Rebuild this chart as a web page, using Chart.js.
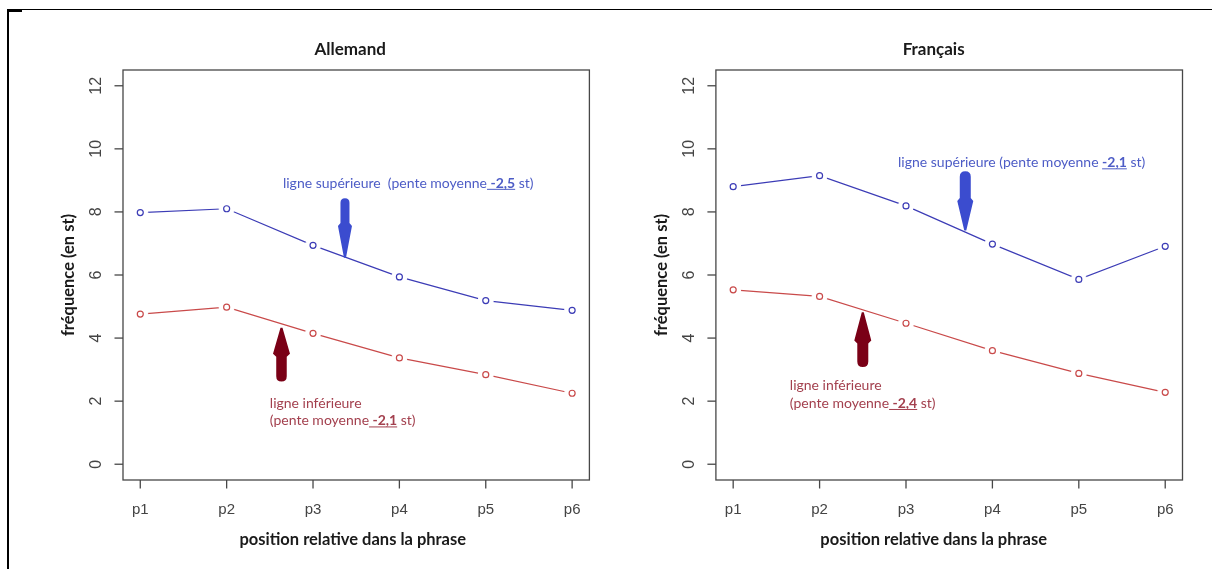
<!DOCTYPE html>
<html>
<head>
<meta charset="utf-8">
<script src="https://cdn.jsdelivr.net/npm/chart.js@4.4.0/dist/chart.umd.min.js"></script>
<style>
  body { margin: 0; background: #fff; width: 1212px; height: 569px; overflow: hidden; position: relative; }
  canvas { position: absolute; top: 0; }
  #allemand { left: 0; }
  #francais { left: 606px; }
  .frame-top { position: absolute; left: 7px; top: 9px; width: 1205px; height: 1px; background: #000; }
  .frame-left { position: absolute; left: 7px; top: 9px; width: 2px; height: 560px; background: #000; }
  .frame-corner { position: absolute; left: 7px; top: 9px; width: 15px; height: 3px; background: #000; }
</style>
</head>
<body>
<canvas id="allemand" width="606" height="569"></canvas>
<canvas id="francais" width="606" height="569"></canvas>
<div class="frame-top"></div>
<div class="frame-left"></div>
<div class="frame-corner"></div>
<script>
// values
const categories = ['p1', 'p2', 'p3', 'p4', 'p5', 'p6'];
const yTicks = [0, 2, 4, 6, 8, 10, 12];
const allemandSup = [7.98, 8.10, 6.94, 5.94, 5.19, 4.88];
const allemandInf = [4.76, 4.98, 4.15, 3.37, 2.84, 2.25];
const francaisSup = [8.80, 9.15, 8.19, 6.98, 5.86, 6.91];
const francaisInf = [5.53, 5.32, 4.47, 3.60, 2.88, 2.28];

const BLUE = '#3c3cb6';
const RED = '#c94a4a';
const BLUE_TXT = '#4d5cc6';
const RED_TXT = '#a3404e';
const BLUE_ARROW = '#3b4ccf';
const RED_ARROW = '#7a0016';
const NOTE_SIZE = 14;

// line + white gap + open circle, like R type="b"
function seriesSets(values, color) {
  const pts = values.map((v, i) => ({ x: i + 1, y: v }));
  return [
    { data: pts, borderColor: color, borderWidth: 1.2, pointRadius: 0, tension: 0, order: 3 },
    { data: pts, showLine: false, pointRadius: 7.5, pointBackgroundColor: '#ffffff', pointBorderColor: '#ffffff', pointBorderWidth: 1, order: 2 },
    { data: pts, showLine: false, pointRadius: 3, pointBackgroundColor: '#ffffff', pointBorderColor: color, pointBorderWidth: 1.2, order: 1 }
  ];
}

function drawRich(ctx, parts, x, y, size, color) {
  let cx = x;
  ctx.textAlign = 'left';
  ctx.textBaseline = 'middle';
  ctx.fillStyle = color;
  parts.forEach(p => {
    ctx.font = (p.bold ? '700 ' : '400 ') + size + 'px Lato';
    ctx.fillText(p.t, cx, y);
    const w = ctx.measureText(p.t).width;
    if (p.u) ctx.fillRect(cx, y + size * 0.4, w, 1);
    cx += w;
  });
}

function drawArrow(ctx, cx, yTail, yBase, yTip, shaftW, headW, color) {
  const dir = Math.sign(yTip - yTail);
  ctx.fillStyle = color;
  ctx.beginPath();
  ctx.moveTo(cx - shaftW / 2, yTail + dir * shaftW / 2);
  ctx.quadraticCurveTo(cx - shaftW / 2, yTail, cx, yTail);
  ctx.quadraticCurveTo(cx + shaftW / 2, yTail, cx + shaftW / 2, yTail + dir * shaftW / 2);
  ctx.lineTo(cx + shaftW / 2, yBase - dir * 3);
  ctx.lineTo(cx + headW / 2, yBase);
  ctx.lineTo(cx + 1, yTip);
  ctx.lineTo(cx - 1, yTip);
  ctx.lineTo(cx - headW / 2, yBase);
  ctx.lineTo(cx - shaftW / 2, yBase - dir * 3);
  ctx.closePath();
  ctx.fill();
}

const rStyle = {
  id: 'rStyle',
  afterDraw(chart, args, o) {
    const { ctx, chartArea: a, scales: { x, y } } = chart;
    ctx.save();
    // box
    ctx.strokeStyle = '#474747';
    ctx.lineWidth = 1.3;
    ctx.strokeRect(a.left, a.top, a.right - a.left, a.bottom - a.top);
    // y axis ticks, rotated labels
    ctx.fillStyle = '#444';
    ctx.font = '16px "Liberation Sans"';
    ctx.textAlign = 'center';
    ctx.textBaseline = 'middle';
    yTicks.forEach(v => {
      const py = y.getPixelForValue(v);
      ctx.beginPath();
      ctx.moveTo(a.left - 8.5, py);
      ctx.lineTo(a.left, py);
      ctx.stroke();
      ctx.save();
      ctx.translate(a.left - 26, py);
      ctx.rotate(-Math.PI / 2);
      ctx.fillText(String(v), 0, 0);
      ctx.restore();
    });
    // x axis ticks
    ctx.font = '15px "Liberation Sans"';
    categories.forEach((c, i) => {
      const px = x.getPixelForValue(i + 1);
      ctx.beginPath();
      ctx.moveTo(px, a.bottom);
      ctx.lineTo(px, a.bottom + 8.5);
      ctx.stroke();
      ctx.fillText(c, px, a.bottom + 30);
    });
    // titles
    ctx.fillStyle = '#1a1a1a';
    ctx.font = '700 17px Lato';
    ctx.fillText(o.title, x.getPixelForValue(o.titleX), a.top - 20);
    ctx.font = '700 16.5px Lato';
    ctx.fillText('position relative dans la phrase', x.getPixelForValue(o.xTitleX), a.bottom + 60);
    ctx.save();
    ctx.translate(a.left - 54, y.getPixelForValue(6.0));
    ctx.rotate(-Math.PI / 2);
    ctx.fillText('fréquence (en st)', 0, 0);
    ctx.restore();
    // annotations
    o.arrows.forEach(ar => {
      drawArrow(ctx, x.getPixelForValue(ar.x), y.getPixelForValue(ar.tail), y.getPixelForValue(ar.base),
        y.getPixelForValue(ar.tip), ar.shaft, ar.head, ar.color);
    });
    o.notes.forEach(n => {
      drawRich(ctx, n.parts, x.getPixelForValue(n.x), y.getPixelForValue(n.y), NOTE_SIZE, n.color);
    });
    ctx.restore();
  }
};

const panels = [
  {
    id: 'allemand', title: 'Allemand', titleX: 3.43, xTitleX: 3.46,
    sup: allemandSup, inf: allemandInf,
    pad: { left: 123, right: 16.6, top: 70, bottom: 89 },
    arrows: [
      { x: 3.37, tail: 8.43, base: 7.55, tip: 6.55, shaft: 9, head: 14, color: BLUE_ARROW },
      { x: 2.635, tail: 2.62, base: 3.50, tip: 4.33, shaft: 10.5, head: 17, color: RED_ARROW }
    ],
    notes: [
      { x: 2.652, y: 8.91, color: BLUE_TXT, parts: [{ t: 'ligne supérieure  (pente moyenne' }, { t: ' -2,5', bold: true, u: true }, { t: ' st)' }] },
      { x: 2.50, y: 1.93, color: RED_TXT, parts: [{ t: 'ligne inférieure' }] },
      { x: 2.50, y: 1.376, color: RED_TXT, parts: [{ t: '(pente moyenne' }, { t: ' -2,1', bold: true, u: true }, { t: ' st)' }] }
    ]
  },
  {
    id: 'francais', title: 'Français', titleX: 3.32, xTitleX: 3.32,
    sup: francaisSup, inf: francaisInf,
    pad: { left: 109.9, right: 29.5, top: 70, bottom: 89 },
    arrows: [
      { x: 3.686, tail: 9.29, base: 8.35, tip: 7.41, shaft: 11, head: 16, color: BLUE_ARROW },
      { x: 2.50, tail: 3.08, base: 3.92, tip: 4.82, shaft: 11, head: 17, color: RED_ARROW }
    ],
    notes: [
      { x: 2.908, y: 9.56, color: BLUE_TXT, parts: [{ t: 'ligne supérieure (pente moyenne ' }, { t: '-2,1', bold: true, u: true }, { t: ' st)' }] },
      { x: 1.656, y: 2.50, color: RED_TXT, parts: [{ t: 'ligne inférieure' }] },
      { x: 1.656, y: 1.93, color: RED_TXT, parts: [{ t: '(pente moyenne' }, { t: ' -2,4', bold: true, u: true }, { t: ' st)' }] }
    ]
  }
];

panels.forEach(p => {
  new Chart(document.getElementById(p.id), {
    type: 'line',
    data: { datasets: [...seriesSets(p.sup, BLUE), ...seriesSets(p.inf, RED)] },
    options: {
      responsive: false,
      animation: false,
      layout: { padding: p.pad },
      scales: {
        x: { type: 'linear', min: 0.8, max: 6.2, display: false },
        y: { type: 'linear', min: -0.5, max: 12.5, display: false }
      },
      plugins: { legend: { display: false }, tooltip: { enabled: false }, rStyle: p }
    },
    plugins: [rStyle]
  });
});
</script>
</body>
</html>
